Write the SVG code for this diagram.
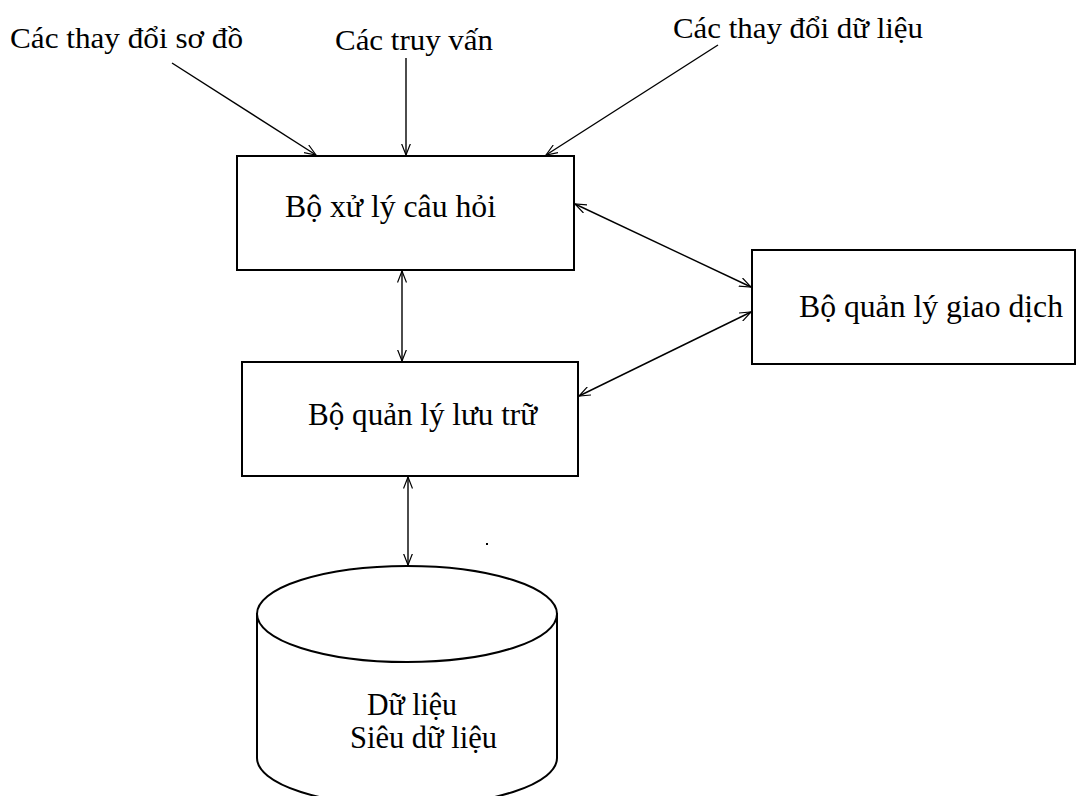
<svg xmlns="http://www.w3.org/2000/svg" width="1077" height="796" viewBox="0 0 1077 796">
<style>
.box{fill:#fff;stroke:#000;stroke-width:2}
.lbl{font-family:"Liberation Serif","Times New Roman",serif;fill:#000}
.t32{font-size:32px}
.t30{font-size:30px}
.conn{stroke:#000;stroke-width:1.4;fill:none}
</style>
<defs>
<marker id="ah" viewBox="0 0 12 10" refX="11.5" refY="5" markerWidth="12" markerHeight="10" markerUnits="userSpaceOnUse" orient="auto-start-reverse">
<path d="M0,0.5 L11.5,5 L0,9.5" fill="none" stroke="#000" stroke-width="1.2"/>
</marker>
</defs>
<rect width="1077" height="796" fill="#fff"/>
<g id="lbl-schema"><text class="lbl t30" x="10" y="48" textLength="233" lengthAdjust="spacingAndGlyphs">Các thay đổi sơ đồ</text></g>
<g id="lbl-queries"><text class="lbl t30" x="335" y="50" textLength="158" lengthAdjust="spacingAndGlyphs">Các truy vấn</text></g>
<g id="lbl-data"><text class="lbl t30" x="673" y="38" textLength="250" lengthAdjust="spacingAndGlyphs">Các thay đổi dữ liệu</text></g>
<g id="query-processor">
<rect class="box" x="237" y="156" width="337" height="114"/>
<text class="lbl t32" x="285" y="217" textLength="211" lengthAdjust="spacingAndGlyphs">Bộ xử lý câu hỏi</text>
</g>
<g id="storage-manager">
<rect class="box" x="242" y="362" width="336" height="114"/>
<text class="lbl t32" x="308" y="425" textLength="229" lengthAdjust="spacingAndGlyphs">Bộ quản lý lưu trữ</text>
</g>
<g id="transaction-manager">
<rect class="box" x="752" y="250" width="323" height="114"/>
<text class="lbl t32" x="799" y="317" textLength="264" lengthAdjust="spacingAndGlyphs">Bộ quản lý giao dịch</text>
</g>
<g id="database">
<path class="box" d="M257,613 L257,758 A150,48 0 0 0 557,758 L557,613"/>
<ellipse class="box" cx="407" cy="614" rx="150" ry="48"/>
<text class="lbl t32" x="367" y="715" textLength="90" lengthAdjust="spacingAndGlyphs">Dữ liệu</text>
<text class="lbl t32" x="350" y="748" textLength="147" lengthAdjust="spacingAndGlyphs">Siêu dữ liệu</text>
</g>
<g id="connectors">
<line class="conn" x1="172" y1="63" x2="316" y2="155" marker-end="url(#ah)"/>
<line class="conn" x1="406" y1="58" x2="406" y2="155" marker-end="url(#ah)"/>
<line class="conn" x1="718" y1="45" x2="546" y2="155" marker-end="url(#ah)"/>
<line class="conn" x1="402" y1="271" x2="402" y2="361" marker-start="url(#ah)" marker-end="url(#ah)"/>
<line class="conn" x1="575" y1="204" x2="751" y2="287" marker-start="url(#ah)" marker-end="url(#ah)"/>
<line class="conn" x1="751" y1="312" x2="579" y2="396" marker-start="url(#ah)" marker-end="url(#ah)"/>
<line class="conn" x1="408" y1="477" x2="408" y2="565" marker-start="url(#ah)" marker-end="url(#ah)"/>
</g>
<rect x="486" y="543" width="2" height="2" fill="#000"/>
</svg>
